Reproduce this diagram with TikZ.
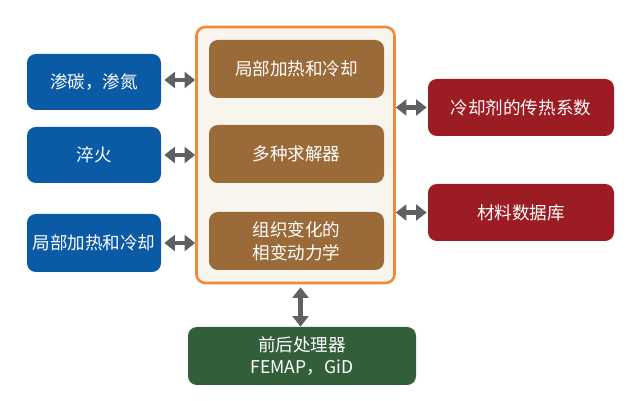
\documentclass[tikz,border=0pt]{standalone}
\usepackage{fontspec}
\setmainfont{Noto Sans CJK SC}
\usetikzlibrary{positioning,arrows.meta}
\definecolor{boxblue}{HTML}{0B5AA6}
\definecolor{boxbrown}{HTML}{9A6A38}
\definecolor{boxred}{HTML}{9B1C22}
\definecolor{boxgreen}{HTML}{335E3A}
\definecolor{frameorange}{HTML}{F08A3C}
\definecolor{cream}{HTML}{F8F4EE}
\tikzset{
 box/.style={rounded corners=5pt,text=white,font=\fontsize{10}{13}\selectfont,align=center,inner sep=0pt},
 link/.style={{Triangle[width=9pt,length=6pt]}-{Triangle[width=9pt,length=6pt]},line width=2.8pt,draw=gray!75!black}
}
\begin{document}
\begin{tikzpicture}[x=0.02cm,y=-0.02cm]
 \useasboundingbox (0,0) rectangle (640,401);
 % frame
 \node (frame) [draw=frameorange,line width=1.5pt,fill=cream,rounded corners=5pt,minimum width=198*0.02cm,minimum height=256*0.02cm,inner sep=0pt] at (295.5,155) {};
 % left
 \node (carb) [box,fill=boxblue,minimum width=134*0.02cm,minimum height=56*0.02cm] at (94,82) {渗碳，渗氮};
 \node (quen) [box,fill=boxblue,minimum width=134*0.02cm,minimum height=56*0.02cm] at (94,155) {淬火};
 \node (lheat) [box,fill=boxblue,minimum width=134*0.02cm,minimum height=58*0.02cm] at (94,243) {局部加热和冷却};
 % center
 \node (cheat) [box,fill=boxbrown,minimum width=175*0.02cm,minimum height=58*0.02cm] at (296.5,69) {局部加热和冷却};
 \node (solv) [box,fill=boxbrown,minimum width=175*0.02cm,minimum height=58*0.02cm] at (296.5,154) {多种求解器};
 \node (phase) [box,fill=boxbrown,minimum width=175*0.02cm,minimum height=58*0.02cm] at (296.5,241) {组织变化的\\相变动力学};
 % right
 \node (coef) [box,fill=boxred,minimum width=186*0.02cm,minimum height=57*0.02cm] at (521,107.5) {冷却剂的传热系数};
 \node (mdb) [box,fill=boxred,minimum width=186*0.02cm,minimum height=57*0.02cm] at (521,212.5) {材料数据库};
 % bottom
 \node (post) [box,fill=boxgreen,minimum width=228*0.02cm,minimum height=58*0.02cm] at (302,356) {前后处理器\\FEMAP，GiD};
 % links
 \draw[link] (carb.east) ++(3,-2) coordinate (a1) -- (a1 -| frame.west);
 \draw[link] (quen.east) ++(3,0) coordinate (a2) -- (a2 -| frame.west);
 \draw[link] (lheat.east) ++(3,0) coordinate (a3) -- (a3 -| frame.west);
 \draw[link] (coef.west) ++(-1,0) coordinate (a4) -- (a4 -| frame.east);
 \draw[link] (mdb.west) ++(-1,0) coordinate (a5) -- (a5 -| frame.east);
 \draw[link] (frame.south) ++(5,3) coordinate (a6) -- (a6 |- post.north);
\end{tikzpicture}
\end{document}
